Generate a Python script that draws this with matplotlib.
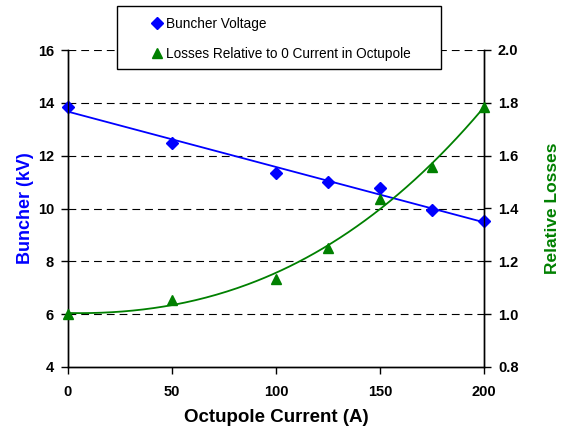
import numpy as np
import matplotlib
matplotlib.use("Agg")
import matplotlib.pyplot as plt
from matplotlib.lines import Line2D
from matplotlib.patches import Rectangle

plt.rcParams["font.family"] = ["Liberation Sans", "DejaVu Sans"]

# data
current = [0, 50, 100, 125, 150, 175, 200]
buncher_kv = [13.85, 12.47, 11.34, 11.02, 10.77, 9.95, 9.51]
rel_losses = [1.00, 1.052, 1.132, 1.25, 1.435, 1.556, 1.783]

blue = "#0000FF"
green = "#008000"

fig = plt.figure(figsize=(5.61, 4.28), dpi=100)
ax = fig.add_axes([68 / 561, 1 - 367 / 428, 416 / 561, 317 / 428])
ax2 = ax.twinx()

# trendlines (least squares fits of the data, as in the original sheet)
xs = np.linspace(0, 200, 200)
lin = np.polyfit(current, buncher_kv, 1)
cub = np.polyfit(current, rel_losses, 3)

ax.plot(xs, np.polyval(lin, xs), color=blue, lw=1.3, zorder=3)
ax.plot(current, buncher_kv, ls="none", marker="D", ms=6, color=blue,
        clip_on=False, zorder=4)
ax2.plot(xs, np.polyval(cub, xs), color=green, lw=1.3, zorder=3)
ax2.plot(current, rel_losses, ls="none", marker="^", ms=7.5, color=green,
         clip_on=False, zorder=4)

ax.set_xlim(0, 200)
ax.set_ylim(4, 16)
ax2.set_ylim(0.8, 2.0)
ax.set_xticks([0, 50, 100, 150, 200])
ax.set_yticks([4, 6, 8, 10, 12, 14, 16])
ax2.set_yticks([0.8, 1.0, 1.2, 1.4, 1.6, 1.8, 2.0])
ax2.set_yticklabels(["%.1f" % v for v in [0.8, 1.0, 1.2, 1.4, 1.6, 1.8, 2.0]])

for y in [6, 8, 10, 12, 14, 16]:
    ax.axhline(y, color="black", lw=0.8, dashes=(7, 4.5), zorder=1)

for a in (ax, ax2):
    a.spines["top"].set_visible(False)
    for s in a.spines.values():
        s.set_linewidth(1.0)
ax.tick_params(axis="both", direction="out", length=5, width=1,
               labelsize=10.5, pad=5)
ax.tick_params(axis="x", pad=8)
ax2.tick_params(axis="y", direction="out", length=5, width=1,
                labelsize=10.5, pad=5)
for lab in ax.get_xticklabels() + ax.get_yticklabels() + ax2.get_yticklabels():
    lab.set_fontweight("bold")

ax.set_xlabel("Octupole Current (A)", fontsize=13.5, fontweight="bold",
              labelpad=7)
ax.set_ylabel("Buncher (kV)", fontsize=13, fontweight="bold", color=blue,
              labelpad=3)
ax2.set_ylabel("Relative Losses", fontsize=12.5, fontweight="bold",
               color=green, labelpad=19)

# legend box sitting over the top of the plot
fig.patches.append(Rectangle((117 / 561, 1 - 69 / 428), 324 / 561, 63 / 428,
                             transform=fig.transFigure, facecolor="white",
                             edgecolor="black", lw=1.0, zorder=5))
handles = [
    Line2D([], [], ls="none", marker="D", ms=6, color=blue),
    Line2D([], [], ls="none", marker="^", ms=7.5, color=green),
]
labels = ["Buncher Voltage", "Losses Relative to 0 Current in Octupole"]
leg = fig.legend(handles, labels, loc="center left",
                 bbox_to_anchor=(143 / 561, 1 - 39 / 428), frameon=False,
                 fontsize=9.8, labelspacing=1.15, handlelength=1.0,
                 handletextpad=0.2, borderpad=0)
leg.set_zorder(6)

fig.savefig("out.png", dpi=100)
